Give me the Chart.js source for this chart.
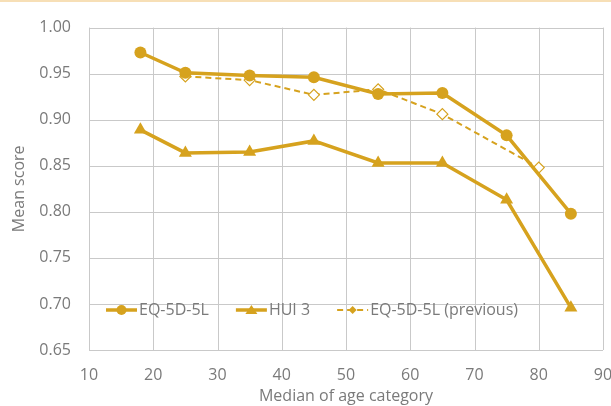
<!DOCTYPE html>
<html>
<head>
<meta charset="utf-8">
<script src="https://cdn.jsdelivr.net/npm/chart.js@4"></script>
<style>
html,body{margin:0;padding:0;background:#fff;}
#wrap{position:relative;width:611px;height:406px;}
</style>
</head>
<body>
<div id="wrap"><canvas id="c" width="611" height="406"></canvas></div>
<script>
// ---- data ----
const ageGroups = [18, 25, 35, 45, 55, 65, 75, 85];
const eq5d5l = [0.973, 0.951, 0.948, 0.946, 0.928, 0.929, 0.883, 0.798];
const hui3 = [0.889, 0.864, 0.865, 0.877, 0.853, 0.853, 0.813, 0.696];
const agePrevious = [25, 35, 45, 55, 65, 80];
const eq5d5lPrevious = [0.947, 0.943, 0.927, 0.933, 0.906, 0.848];
const seriesNames = ['EQ-5D-5L', 'HUI 3', 'EQ-5D-5L (previous)'];
const xTitle = 'Median of age category';
const yTitle = 'Mean score';

const GOLD = '#d6a21e';
const GRID = '#c9c9c9';
const TXT = '#7a7a7a';
const FONT = "'Open Sans', sans-serif";

const pts = (xs, ys) => xs.map((x, i) => ({x: x, y: ys[i]}));

// draws the plot grid from the scales' own ticks
const gridPlugin = {
  id: 'plotGrid',
  beforeDatasetsDraw(chart) {
    const ctx = chart.ctx;
    const a = chart.chartArea;
    const xs = chart.scales.x, ys = chart.scales.y;
    ctx.save();
    ctx.strokeStyle = GRID;
    ctx.lineWidth = 1;
    ctx.beginPath();
    xs.ticks.forEach(t => {
      const px = Math.round(xs.getPixelForValue(t.value)) + 0.5;
      ctx.moveTo(px, a.top);
      ctx.lineTo(px, a.bottom);
    });
    ys.ticks.forEach(t => {
      const py = Math.round(ys.getPixelForValue(t.value)) + 0.5;
      ctx.moveTo(a.left, py);
      ctx.lineTo(a.right, py);
    });
    ctx.stroke();
    ctx.restore();
  }
};

const legendPlugin = {
  id: 'inlineLegend',
  afterDatasetsDraw(chart) {
    const ctx = chart.ctx;
    const a = chart.chartArea;
    const y = a.bottom - 40;
    let x = a.left + 17;
    ctx.save();
    ctx.font = '16px ' + FONT;
    ctx.textBaseline = 'middle';
    chart.data.datasets.forEach((ds, i) => {
      const w = 31;
      ctx.strokeStyle = GOLD;
      ctx.lineWidth = ds.borderWidth;
      ctx.setLineDash(ds.borderDash || []);
      ctx.beginPath();
      ctx.moveTo(x, y);
      ctx.lineTo(x + w, y);
      ctx.stroke();
      ctx.setLineDash([]);
      const cx = x + w / 2;
      ctx.fillStyle = GOLD;
      ctx.beginPath();
      if (ds.pointStyle === 'circle') {
        ctx.arc(cx, y, 5, 0, Math.PI * 2);
        ctx.fill();
      } else if (ds.pointStyle === 'triangle') {
        ctx.moveTo(cx, y - 5);
        ctx.lineTo(cx + 6, y + 4);
        ctx.lineTo(cx - 6, y + 4);
        ctx.closePath();
        ctx.fill();
      } else {
        ctx.moveTo(cx, y - 4);
        ctx.lineTo(cx + 4, y);
        ctx.lineTo(cx, y + 4);
        ctx.lineTo(cx - 4, y);
        ctx.closePath();
        ctx.fill();
      }
      ctx.fillStyle = TXT;
      ctx.fillText(ds.label, x + w + 2, y);
      x += w + 2 + ctx.measureText(ds.label).width + 27;
    });
    ctx.restore();
  }
};

const topLine = {
  id: 'topLine',
  beforeDraw(chart) {
    const ctx = chart.ctx;
    ctx.save();
    ctx.fillStyle = '#f7dfb6';
    ctx.fillRect(0, 0, chart.width, 2);
    ctx.restore();
  }
};

new Chart(document.getElementById('c'), {
  type: 'line',
  data: {
    datasets: [
      {
        label: seriesNames[0],
        data: pts(ageGroups, eq5d5l),
        borderColor: GOLD, backgroundColor: GOLD,
        borderWidth: 3.5, pointStyle: 'circle', pointRadius: 6,
        pointBorderWidth: 0, tension: 0, fill: false
      },
      {
        label: seriesNames[1],
        data: pts(ageGroups, hui3),
        borderColor: GOLD, backgroundColor: GOLD,
        borderWidth: 3.5, pointStyle: 'triangle', pointRadius: 7.5,
        pointBorderWidth: 0, tension: 0, fill: false
      },
      {
        label: seriesNames[2],
        data: pts(agePrevious, eq5d5lPrevious),
        borderColor: GOLD, backgroundColor: '#ffffff',
        pointBackgroundColor: '#ffffff', pointBorderColor: GOLD,
        borderWidth: 2, borderDash: [6, 4], pointStyle: 'rectRot',
        pointRadius: 5.5, pointBorderWidth: 1.2, tension: 0, fill: false
      }
    ]
  },
  options: {
    responsive: false,
    animation: false,
    layout: {padding: {left: 0, right: 8, top: 24, bottom: 0}},
    plugins: {legend: {display: false}, tooltip: {enabled: false}},
    scales: {
      x: {
        type: 'linear', min: 10, max: 90,
        ticks: {stepSize: 10, color: TXT, font: {family: FONT, size: 16}, padding: 16},
        grid: {display: false, drawTicks: false},
        border: {display: false},
        title: {display: true, text: xTitle, color: TXT, font: {family: FONT, size: 16}, padding: {top: 0, bottom: 0}},
        afterFit: s => { s.height = 56; s.paddingRight = 8; s.paddingLeft = 0; }
      },
      y: {
        min: 0.65, max: 1.0,
        ticks: {stepSize: 0.05, color: TXT, font: {family: FONT, size: 16}, padding: 18,
                callback: v => v.toFixed(2)},
        grid: {display: false, drawTicks: false},
        border: {display: false},
        title: {display: true, text: yTitle, color: TXT, font: {family: FONT, size: 16}, padding: {top: 10, bottom: 0}},
        afterFit: s => { s.width = 89; }
      }
    }
  },
  plugins: [gridPlugin, legendPlugin, topLine]
});
</script>
</body>
</html>
